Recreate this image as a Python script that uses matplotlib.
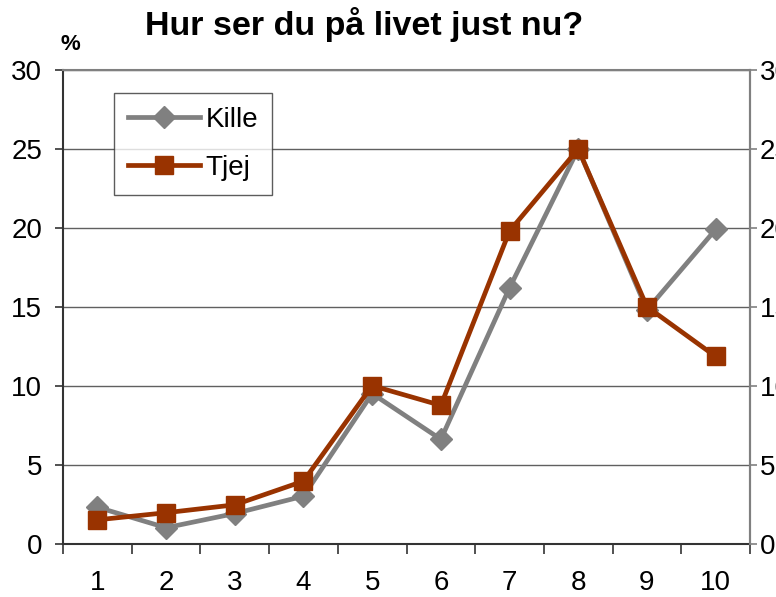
import matplotlib
matplotlib.use("Agg")
import matplotlib.pyplot as plt

plt.rcParams['font.family'] = ['Liberation Sans', 'DejaVu Sans']

categories = [1, 2, 3, 4, 5, 6, 7, 8, 9, 10]
kille = [2.3, 1.0, 1.9, 3.0, 9.5, 6.6, 16.2, 25.0, 14.8, 19.9]
tjej = [1.5, 1.95, 2.45, 3.95, 10.0, 8.75, 19.8, 25.0, 15.0, 11.85]
yticks = [0, 5, 10, 15, 20, 25, 30]

fig = plt.figure(figsize=(7.76, 5.97), dpi=100)
ax = fig.add_axes([63/776, 1-543.5/597, (750-63)/776, (543.5-70)/597])

for y in yticks[1:]:
    ax.axhline(y, color='#606060', lw=1.0, zorder=1)

ax.plot(categories, kille, color='#808080', lw=3.4, marker='D', markersize=11,
        label='Kille', zorder=3)
ax.plot(categories, tjej, color='#993300', lw=3.4, marker='s', markersize=12.5,
        label='Tjej', zorder=4)

ax.set_xlim(0.5, 10.5)
ax.set_ylim(0, 30)
ax.set_yticks(yticks)
ax.set_xticks(categories)
ax.set_xticklabels([str(c) for c in categories])
ax.set_xticks([c + 0.5 for c in [0] + categories], minor=True)
ax.tick_params(axis='x', which='major', length=0, labelsize=20, pad=19)
ax.tick_params(axis='x', which='minor', length=7, width=1.2, color='#333333')
ax.tick_params(axis='y', length=6, width=1.2, color='#333333', labelsize=20, pad=9)

for s in ['left', 'bottom']:
    ax.spines[s].set_color('#333333')
    ax.spines[s].set_linewidth(1.5)
ax.spines['top'].set_color('#808080')
ax.spines['top'].set_linewidth(1.5)
ax.spines['right'].set_color('#808080')
ax.spines['right'].set_linewidth(1.5)

ax2 = ax.twinx()
ax2.set_ylim(0, 30)
ax2.set_yticks(yticks)
ax2.tick_params(axis='y', length=5, width=1.2, color='#808080', labelsize=20, pad=2)
for s in ['left', 'bottom', 'top']:
    ax2.spines[s].set_visible(False)
ax2.spines['right'].set_color('#808080')
ax2.spines['right'].set_linewidth(1.5)

leg = ax.legend(loc='upper left', bbox_to_anchor=((114-63)/687, (543.5-93)/473.5),
                fontsize=20, frameon=True, fancybox=False, edgecolor='#333333',
                handlelength=2.6, handletextpad=0.2, borderpad=0.5,
                labelspacing=0.8, borderaxespad=0)
leg.get_frame().set_linewidth(1.0)
leg.set_zorder(10)

fig.text(364/776, 1-24/597, 'Hur ser du på livet just nu?', ha='center', va='center',
         fontsize=24.5, fontweight='bold')
fig.text(70/776, 1-45/597, '%', ha='center', va='center', fontsize=16, fontweight='bold')

fig.savefig('out.png', dpi=100)
